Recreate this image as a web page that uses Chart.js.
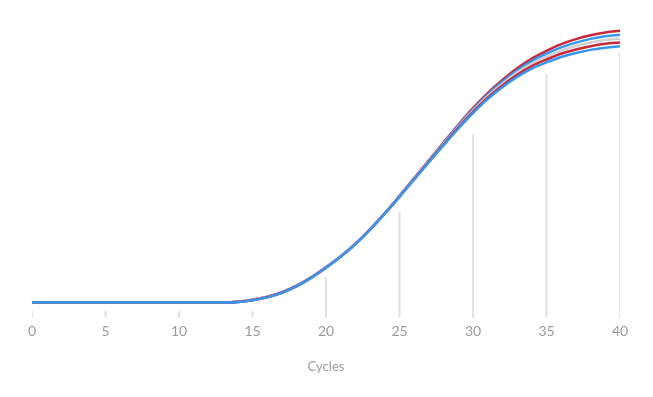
<!DOCTYPE html>
<html>
<head>
<meta charset="utf-8">
<script src="https://cdn.jsdelivr.net/npm/chart.js@4"></script>
<style>
  html, body { margin: 0; padding: 0; background: #ffffff; }
  #wrap { width: 653px; height: 397px; }
</style>
</head>
<body>
<div id="wrap"><canvas id="cyclesChart" width="653" height="397"></canvas></div>
<script>
// amplification curves, one value per cycle (0..40)
const cycles = [0,1,2,3,4,5,6,7,8,9,10,11,12,13,14,15,16,17,18,19,20,21,22,23,24,25,26,27,28,29,30,31,32,33,34,35,36,37,38,39,40];

const redTop = [5,5,5,5,5,5,5,5,5,5,5,5,5,5,5.33,5.93,6.93,8.43,10.6,13.43,16.77,20.43,24.6,29.43,34.77,40.5,46.4,52.33,58.33,64.17,69.66,74.67,79.03,82.93,86.17,88.76,90.96,92.63,93.93,94.86,95.4];
const blueTop = [5,5,5,5,5,5,5,5,5,5,5,5,5,5,5.28,5.88,6.88,8.38,10.55,13.38,16.72,20.38,24.55,29.38,34.72,40.42,46.29,52.17,58.08,63.84,69.25,74.17,78.43,82.22,85.34,87.8,89.9,91.48,92.72,93.6,94.12];
const grayMid = [5,5,5,5,5,5,5,5,5,5,5,5,5,5,5.23,5.83,6.83,8.33,10.5,13.33,16.67,20.33,24.5,29.33,34.67,40.33,46.17,52.0,57.83,63.5,68.83,73.67,77.83,81.5,84.5,86.83,88.83,90.33,91.5,92.33,92.83];
const redLow = [5,5,5,5,5,5,5,5,5,5,5,5,5,5,5.18,5.78,6.78,8.28,10.45,13.28,16.62,20.28,24.45,29.28,34.62,40.25,46.06,51.84,57.58,63.17,68.42,73.17,77.23,80.79,83.67,85.87,87.77,89.18,90.29,91.07,91.55];
const blueLow = [5,5,5,5,5,5,5,5,5,5,5,5,5,5,5.13,5.73,6.73,8.23,10.4,13.23,16.57,20.23,24.4,29.23,34.57,40.16,45.94,51.67,57.33,62.83,68.0,72.67,76.63,80.07,82.83,84.9,86.7,88.03,89.07,89.8,90.26];

// light vertical markers at the tick positions
const markerCycles = [0, 5, 10, 15, 20, 25, 30, 35, 40];
const markerHeights = [2, 2, 2, 2, 13.4, 34.9, 60.9, 80.9, 88.2];

const toPoints = (xs, ys) => xs.map((x, i) => ({ x: x, y: ys[i] }));

function curve(label, values, color, order) {
    return {
        type: 'line',
        label: label,
        data: toPoints(cycles, values),
        borderColor: color,
        borderWidth: 2.5,
        pointRadius: 0,
        fill: false,
        cubicInterpolationMode: 'monotone',
        order: order
    };
}

const ctx = document.getElementById('cyclesChart').getContext('2d');
const cyclesChart = new Chart(ctx, {
    type: 'line',
    data: {
        datasets: [
            {
                type: 'bar',
                label: 'markers',
                data: toPoints(markerCycles, markerHeights),
                backgroundColor: '#e2e2e2',
                barThickness: 1.5,
                order: 10
            },
            curve('Sample 1', redTop, '#c8283a', 5),
            curve('Sample 2', blueTop, '#3597f0', 4),
            curve('Sample 3', grayMid, '#cfcfcf', 3),
            curve('Sample 4', redLow, '#c8283a', 2),
            curve('Sample 5', blueLow, '#3597f0', 1)
        ]
    },
    options: {
        responsive: false,
        animation: false,
        layout: {
            padding: { left: 32, right: 33, top: 17, bottom: 22 }
        },
        plugins: {
            legend: { display: false },
            tooltip: { enabled: false }
        },
        scales: {
            x: {
                type: 'linear',
                min: 0,
                max: 40,
                offset: false,
                grid: { display: false, drawTicks: false },
                border: { display: false },
                ticks: {
                    stepSize: 5,
                    padding: 5,
                    color: '#9b9b9b',
                    font: { family: 'Lato', size: 14 }
                },
                title: {
                    display: true,
                    text: 'Cycles',
                    color: '#9b9b9b',
                    font: { family: 'Lato', size: 13 },
                    padding: { top: 15, bottom: 0 }
                }
            },
            y: {
                display: false,
                min: 0,
                max: 100
            }
        }
    }
});
</script>
</body>
</html>
